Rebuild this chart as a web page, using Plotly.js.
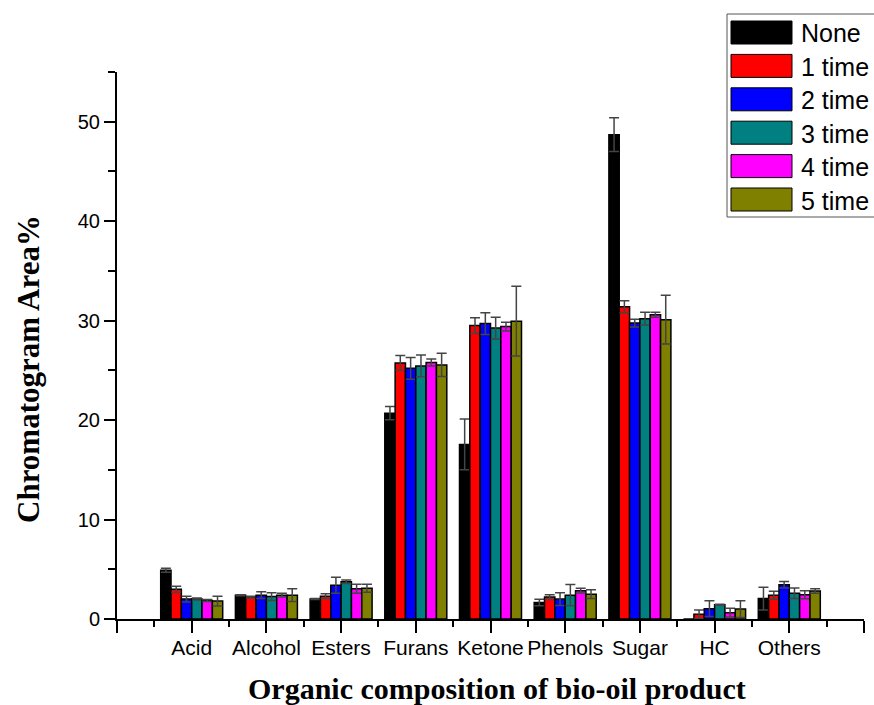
<!DOCTYPE html>
<html>
<head>
<meta charset="utf-8">
<script src="https://cdn.plot.ly/plotly-3.0.1.min.js"></script>
<style>html,body{margin:0;padding:0;background:#fff;}#chart{width:874px;height:705px;}</style>
</head>
<body>
<div id="chart"></div>
<script>
// ---- data ----
const categories = ['Acid','Alcohol','Esters','Furans','Ketone','Phenols','Sugar','HC','Others'];
const seriesNames = ['None','1 time','2 time','3 time','4 time','5 time'];
const seriesColors = ['#000000','#FF0000','#0000FF','#008080','#FF00FF','#808000'];

const none   = [4.9, 2.4, 2.0, 20.7, 17.55, 1.65, 48.7, 0, 2.05];
const noneErr= [0.2, 0.05, 0.05, 0.67, 2.55, 0.33, 1.7, 0, 1.15];
const t1     = [3.0, 2.2, 2.3, 25.75, 29.5, 2.2, 31.4, 0.47, 2.38];
const t1Err  = [0.3, 0.1, 0.25, 0.75, 0.8, 0.23, 0.6, 0.43, 0.4];
const t2     = [2.0, 2.4, 3.4, 25.2, 29.7, 2.0, 29.75, 1.04, 3.45];
const t2Err  = [0.3, 0.35, 0.8, 1.1, 1.1, 0.65, 0.4, 0.8, 0.33];
const t3     = [2.0, 2.25, 3.75, 25.45, 29.25, 2.4, 30.2, 1.44, 2.58];
const t3Err  = [0.1, 0.4, 0.17, 1.1, 1.1, 1.07, 0.65, 0.05, 0.53];
const t4     = [1.85, 2.4, 3.05, 25.8, 29.4, 2.85, 30.6, 0.64, 2.44];
const t4Err  = [0.1, 0.2, 0.45, 0.35, 0.43, 0.23, 0.25, 0.43, 0.4];
const t5     = [1.8, 2.4, 3.1, 25.55, 29.95, 2.5, 30.1, 1.0, 2.81];
const t5Err  = [0.5, 0.65, 0.4, 1.17, 3.5, 0.45, 2.45, 0.84, 0.23];

const yTickVals = [0, 10, 20, 30, 40, 50];
const xTitle = 'Organic composition of bio-oil product';
const yTitle = 'Chromatogram Area%';

// ---- build ----
const values = [none, t1, t2, t3, t4, t5];
const errors = [noneErr, t1Err, t2Err, t3Err, t4Err, t5Err];
const xPos = categories.map((c, i) => i + 1);

const traces = values.map((v, k) => ({
  type: 'bar',
  name: seriesNames[k],
  x: xPos,
  y: v,
  marker: {color: seriesColors[k], line: {color: '#000', width: 1.5}},
  error_y: {type: 'data', array: errors[k], visible: true, color: '#444', thickness: 1.5, width: 5},
  showlegend: false,
  hoverinfo: 'x+y'
}));

// layout geometry helpers (pixel -> paper)
const W = 874, H = 705, L = 117, R = 10, T = 72, B = 86;
const pw = W - L - R, ph = H - T - B;
const px = p => (p - L) / pw;
const py = p => (H - B - p) / ph;

const shapes = [];
const annotations = [];
// legend box
shapes.push({type: 'rect', xref: 'paper', yref: 'paper', x0: px(727), x1: px(885), y0: py(217), y1: py(14),
  line: {color: '#555', width: 1}, fillcolor: 'rgba(0,0,0,0)', layer: 'above'});
seriesNames.forEach((n, k) => {
  const cy = 32.5 + k * 33.4;
  shapes.push({type: 'rect', xref: 'paper', yref: 'paper', x0: px(731), x1: px(792), y0: py(cy + 11.5), y1: py(cy - 11.5),
    fillcolor: seriesColors[k], line: {color: '#000', width: 1}, layer: 'above'});
  annotations.push({xref: 'paper', yref: 'paper', x: px(799), y: py(cy + 1), xanchor: 'left', yanchor: 'middle',
    text: n, showarrow: false, font: {family: 'Liberation Sans, Arial', size: 25, color: '#000'}});
});
// axis titles
annotations.push({xref: 'paper', yref: 'paper', x: px(497), y: py(688), xanchor: 'center', yanchor: 'middle',
  text: '<b>' + xTitle + '</b>', showarrow: false, font: {family: 'Liberation Serif, Times New Roman', size: 30, color: '#000'}});
annotations.push({xref: 'paper', yref: 'paper', x: px(28), y: py(369), xanchor: 'center', yanchor: 'middle', textangle: -90,
  text: '<b>' + yTitle + '</b>', showarrow: false, font: {family: 'Liberation Serif, Times New Roman', size: 31, color: '#000'}});

const xTickVals = [0].concat(xPos, [categories.length + 1]);
const xTickText = [''].concat(categories, ['']);

const layout = {
  width: W, height: H,
  margin: {l: L, r: R, t: T, b: B, pad: 0},
  paper_bgcolor: '#fff', plot_bgcolor: '#fff',
  barmode: 'group', bargap: 0.17, bargroupgap: 0,
  xaxis: {
    range: [0, categories.length + 1], tickmode: 'array', tickvals: xTickVals, ticktext: xTickText,
    ticks: 'outside', ticklen: 12, tickwidth: 2, tickcolor: '#000', ticklabelstandoff: -3,
    minor: {tick0: 0.5, dtick: 1, ticks: 'outside', ticklen: 6, tickwidth: 2, tickcolor: '#000'},
    showline: true, linecolor: '#000', linewidth: 2, showgrid: false, zeroline: false,
    tickfont: {family: 'Liberation Sans, Arial', size: 21, color: '#000'}, fixedrange: true
  },
  yaxis: {
    range: [0, 55], tickmode: 'array', tickvals: yTickVals,
    ticks: 'outside', ticklen: 11, tickwidth: 2, tickcolor: '#000',
    minor: {tick0: 5, dtick: 10, ticks: 'outside', ticklen: 7, tickwidth: 2, tickcolor: '#000'},
    showline: true, linecolor: '#000', linewidth: 2, showgrid: false, zeroline: false,
    tickfont: {family: 'Liberation Sans, Arial', size: 20, color: '#000'}, fixedrange: true
  },
  shapes: shapes,
  annotations: annotations,
  showlegend: false
};

Plotly.newPlot('chart', traces, layout, {displayModeBar: false, staticPlot: true});
</script>
</body>
</html>
